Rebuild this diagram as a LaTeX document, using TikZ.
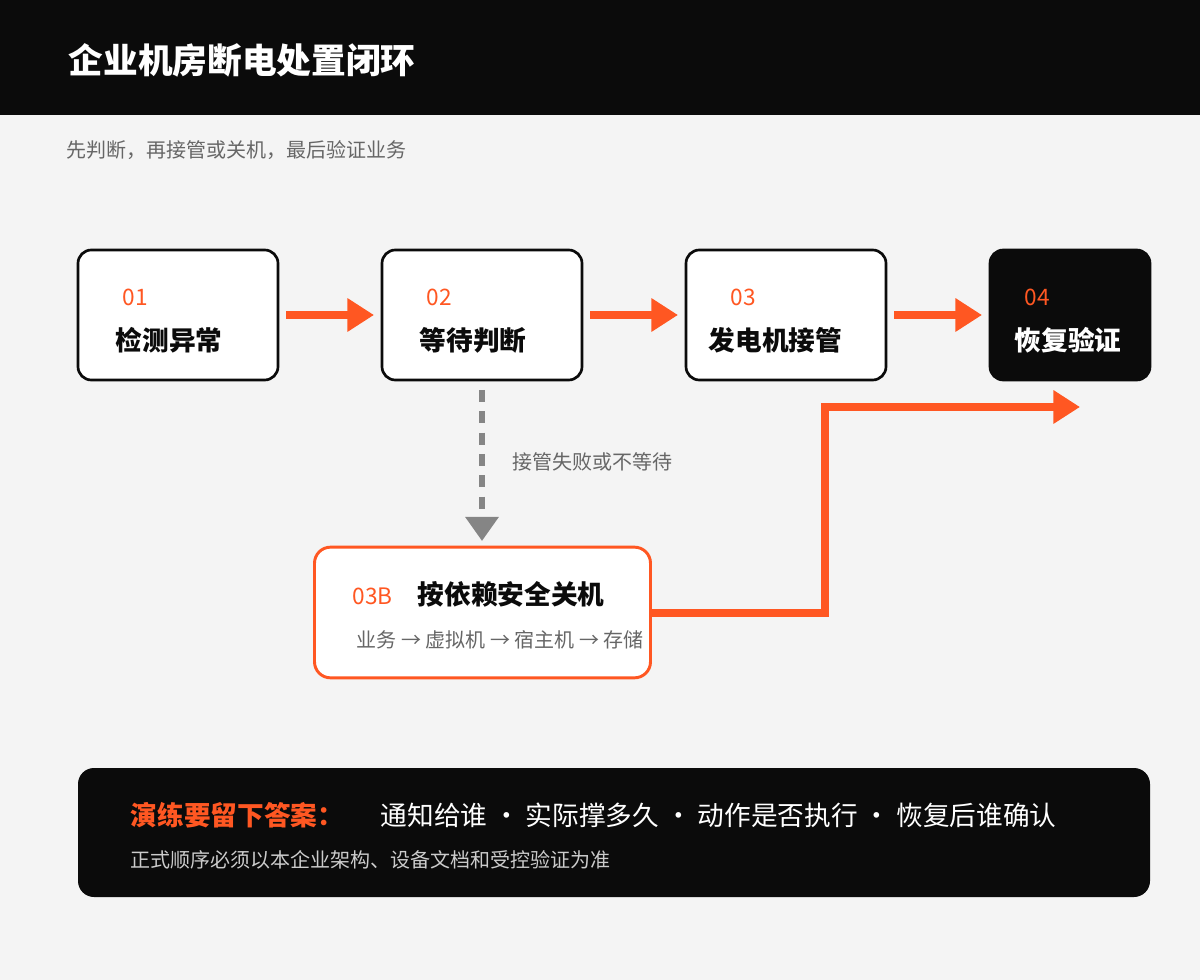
\documentclass[tikz,border=0pt]{standalone}
\usepackage{fontspec}
\setmainfont{Noto Sans CJK SC}
\newfontfamily\cjkb{Noto Sans CJK SC}[BoldFont={Noto Sans CJK SC Bold}]
\usetikzlibrary{arrows.meta}
\definecolor{org}{HTML}{FF5722}
\definecolor{bg}{HTML}{F4F4F4}
\definecolor{blk}{HTML}{0B0B0B}
\definecolor{gry}{HTML}{666666}
\begin{document}
\begin{tikzpicture}[x=0.75pt,y=-0.75pt,
  box/.style={draw=blk,line width=2pt,fill=white,rounded corners=10pt,minimum width=150pt,minimum height=97.5pt},
  num/.style={text=org,font=\fontsize{17}{17}\selectfont,anchor=west},
  lab/.style={text=blk,font=\bfseries\fontsize{20}{20}\selectfont,anchor=west},
  flow/.style={org,line width=6pt,-{Triangle[length=20pt,width=24pt]}}]
\fill[bg] (0,0) rectangle (1200,980);
\fill[blk] (0,0) rectangle (1200,115);
\node[anchor=west,text=white,font=\bfseries\fontsize{26}{26}\selectfont] (title) at (64,60) {企业机房断电处置闭环};
\node[anchor=west,text=gry,font=\fontsize{15}{15}\selectfont] (sub) at (62,150) {先判断，再接管或关机，最后验证业务};
\node[box] (b1) at (178,315) {};
\node[box] (b2) at (482,315) {};
\node[box] (b3) at (786,315) {};
\node[box,fill=blk,minimum width=120pt] (b4) at (1070,315) {};
\node[num] at (118,297) {01}; \node[lab] at (111,340) {检测异常};
\node[num] at (422,297) {02}; \node[lab] at (415,340) {等待判断};
\node[num] at (726,297) {03}; \node[lab] at (704,340) {发电机接管};
\node[num] at (1020,297) {04}; \node[lab,text=white] at (1010,340) {恢复验证};
\coordinate (a1s) at (286,315); \coordinate (a1e) at (374,315);
\coordinate (a2s) at (590,315); \coordinate (a2e) at (678,315);
\coordinate (a3s) at (894,315); \coordinate (a3e) at (982,315);
\draw[flow] (a1s) -- (a1e);
\draw[flow] (a2s) -- (a2e);
\draw[flow] (a3s) -- (a3e);
\node[draw=org,line width=2.2pt,fill=white,rounded corners=12pt,minimum width=252pt,minimum height=98pt] (b3b) at (482.5,612.5) {};
\node[num] at (348,596) {03B};
\node[lab] at (413,594) {按依赖安全关机};
\node[anchor=west,text=gry,font=\fontsize{15}{15}\selectfont] at (352,640) {业务 → 虚拟机 → 宿主机 → 存储};
\coordinate (d1) at (482,390); \coordinate (d2) at (482,541);
\draw[gry!80,line width=4.5pt,dash pattern=on 9pt off 7pt,-{Triangle[length=18pt,width=24pt]}] (d1) -- (d2);
\node[anchor=west,text=gry,font=\fontsize{15}{15}\selectfont] at (508,462) {接管失败或不等待};
\coordinate (p1) at (825,407); \coordinate (p2) at (1080,407);
\draw[flow,line join=miter] (b3b.east) -| (p1) -- (p2);
\fill[blk,rounded corners=12pt] (78,768) rectangle (1150,897);
\node[anchor=west,text=org,font=\bfseries\fontsize{20}{20}\selectfont] at (126,815) {演练要留下答案：};
\node[anchor=west,text=white,font=\fontsize{20}{20}\selectfont] at (376,815) {通知给谁 · 实际撑多久 · 动作是否执行 · 恢复后谁确认};
\node[anchor=west,text=white!80!black,font=\fontsize{15}{15}\selectfont] at (126,860) {正式顺序必须以本企业架构、设备文档和受控验证为准};
\end{tikzpicture}
\end{document}
